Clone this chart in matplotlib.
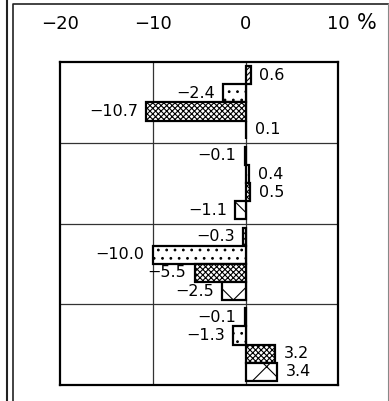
import numpy as np
import matplotlib
matplotlib.use("Agg")
import matplotlib.pyplot as plt
from matplotlib.lines import Line2D

# ----- data ------------------------------------------------------------ #
groups = ["A", "B", "C", "D"]                 # four row blocks, top to bottom
series1 = [0.6, -0.1, -0.3, -0.1]
series2 = [-2.4, 0.4, -10.0, -1.3]
series3 = [-10.7, 0.5, -5.5, 3.2]
series4 = [0.1, -1.1, -2.5, 3.4]
xticks = [-20, -10, 0, 10]
xtick_labels = ["\u221220", "\u221210", "0", "10"]

hatches = ["//////", "..", "xxxxxx", "x"]
BAR_H = 0.225

plt.rcParams["font.family"] = ["DejaVu Sans"]
plt.rcParams["hatch.linewidth"] = 0.8

fig = plt.figure(figsize=(3.89, 4.01), dpi=100)
ax = fig.add_axes([60 / 389, 16 / 401, 278.3 / 389, 323 / 401])

ypos = np.arange(len(groups))
all_series = [series1, series2, series3, series4]
for k, vals in enumerate(all_series):
    off = (k - 1.5) * BAR_H
    bars = ax.barh(ypos + off, vals, height=BAR_H, color="white",
                   edgecolor="black", linewidth=1.6, hatch=hatches[k], zorder=3)
    for b, v in zip(bars, vals):
        y = b.get_y() + b.get_height() / 2
        txt = f"{abs(v):.1f}" if v >= 0 else f"\u2212{abs(v):.1f}"
        if v >= 0:
            ax.annotate(txt, (v, y), xytext=(6, 0), textcoords="offset points",
                        ha="left", va="center", fontsize=11.5, zorder=4)
        else:
            ax.annotate(txt, (v, y), xytext=(-6, 0), textcoords="offset points",
                        ha="right", va="center", fontsize=11.5, zorder=4)

ax.set_xlim(-20, 10)
ax.set_ylim(len(groups) - 0.5, -0.5)
ax.set_xticks(xticks)
ax.set_xticklabels(xtick_labels, fontsize=13)
ax.xaxis.tick_top()
ax.tick_params(axis="x", length=0, pad=21)
ax.set_yticks([])

# grid: vertical at -10 and 0, horizontal between groups
for xv in [-10, 0]:
    ax.axvline(xv, color="#333333", lw=0.9, zorder=1)
for yv in np.arange(0.5, len(groups) - 0.5, 1.0):
    ax.axhline(yv, color="#333333", lw=0.9, zorder=1)
for s in ax.spines.values():
    s.set_linewidth(1.6)

fig.text(367 / 389, 1 - 23 / 401, "%", ha="center", va="center", fontsize=15)

# outer frame lines
W, H = 389, 401
fig.add_artist(Line2D([7 / W, 7 / W], [0, 1], color="#222222", lw=1.5))
fig.add_artist(Line2D([12.5 / W, 12.5 / W, 387.5 / W], [0, 1 - 4 / H, 1 - 4 / H],
                      color="#222222", lw=1.2))
fig.add_artist(Line2D([387.5 / W, 387.5 / W], [0, 1 - 4 / H], color="#888888", lw=0.8))

fig.savefig("out.png", dpi=100)
